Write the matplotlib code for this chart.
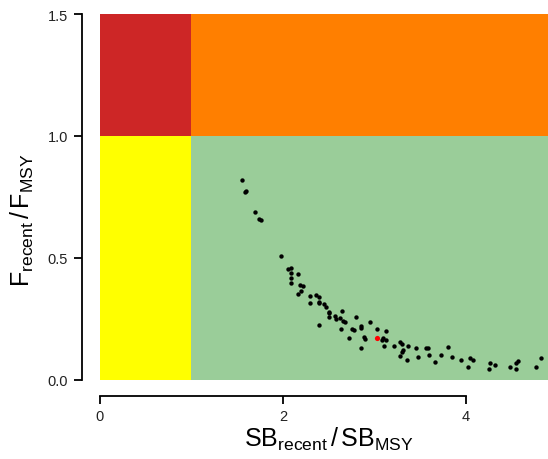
import matplotlib
matplotlib.use("Agg")
import matplotlib.pyplot as plt
from matplotlib.patches import Rectangle

plt.rcParams['font.family'] = ['Liberation Sans', 'DejaVu Sans']
plt.rcParams['mathtext.fontset'] = 'custom'
plt.rcParams['mathtext.rm'] = 'Liberation Sans'
plt.rcParams['mathtext.it'] = 'Liberation Sans'

sb_ratio = [1.55, 1.59, 1.60, 1.70, 1.74, 1.76, 1.98, 2.06, 2.09, 2.09, 2.17, 2.09, 2.09, 2.19, 2.22,
            2.17, 2.20, 2.30, 2.36, 2.30, 2.40, 2.40, 2.39, 2.45, 2.47, 2.50, 2.51, 2.50, 2.57, 2.58,
            2.62, 2.65, 2.66, 2.68, 2.80, 2.40, 2.64, 2.76, 2.78, 2.86, 2.86, 2.95, 2.72, 2.89, 2.90,
            3.03, 3.13, 3.10, 3.13, 3.08, 2.86, 3.11, 3.22, 3.28, 3.30, 3.37, 3.31, 3.30, 3.28, 3.36,
            3.46, 3.48, 3.57, 3.59, 3.60, 3.66, 3.73, 3.81, 3.85, 3.95, 4.05, 4.08, 4.03, 4.27, 4.32,
            4.26, 4.48, 4.55, 4.57, 4.55, 4.77, 4.82]
f_ratio = [0.82, 0.77, 0.776, 0.69, 0.66, 0.656, 0.51, 0.454, 0.457, 0.44, 0.434, 0.418, 0.399, 0.39, 0.384,
           0.352, 0.363, 0.343, 0.348, 0.316, 0.339, 0.321, 0.314, 0.311, 0.30, 0.28, 0.273, 0.257, 0.264, 0.25,
           0.253, 0.284, 0.243, 0.239, 0.257, 0.227, 0.209, 0.211, 0.206, 0.223, 0.214, 0.236, 0.173, 0.175, 0.168,
           0.209, 0.201, 0.171, 0.165, 0.165, 0.13, 0.138, 0.138, 0.157, 0.148, 0.138, 0.124, 0.113, 0.097, 0.082,
           0.13, 0.093, 0.13, 0.13, 0.102, 0.072, 0.104, 0.134, 0.093, 0.082, 0.09, 0.084, 0.055, 0.07, 0.063,
           0.045, 0.055, 0.068, 0.077, 0.045, 0.055, 0.089]
ref_sb = [3.03]
ref_f = [0.171]

x_ticks = [0, 2, 4]
y_ticks = [0.0, 0.5, 1.0, 1.5]
y_tick_labels = ["0.0", "0.5", "1.0", "1.5"]

W, H = 548, 460
PX = 0.72  # points per pixel at dpi 100
fig = plt.figure(figsize=(W / 100, H / 100), dpi=100)
ax = fig.add_axes([100 / W, (H - 381) / H, 448 / W, 366 / H])
xmax = 4.9
ax.set_xlim(0, xmax)
ax.set_ylim(0, 1.5)

ax.add_patch(Rectangle((0, 0), 1, 1, color='#FFFF00', lw=0))
ax.add_patch(Rectangle((1, 0), xmax - 1, 1, color='#9ACD99', lw=0))
ax.add_patch(Rectangle((0, 1), 1, 0.5, color='#CD2626', lw=0))
ax.add_patch(Rectangle((1, 1), xmax - 1, 0.5, color='#FF7F00', lw=0))

ax.scatter(sb_ratio, f_ratio, s=10, c='black', linewidths=0, zorder=3, clip_on=False)
ax.scatter(ref_sb, ref_f, s=14, c='#FF0000', linewidths=0, zorder=4)

for s in ['top', 'right']:
    ax.spines[s].set_visible(False)
ax.spines['left'].set_position(('outward', 18 * PX))
ax.spines['left'].set_bounds(0, 1.5)
ax.spines['bottom'].set_position(('outward', 16 * PX))
ax.spines['bottom'].set_bounds(0, 4)
for s in ['left', 'bottom']:
    ax.spines[s].set_linewidth(1.3)

ax.set_xticks(x_ticks)
ax.set_xticklabels([str(t) for t in x_ticks])
ax.set_yticks(y_ticks)
ax.set_yticklabels(y_tick_labels)
ax.tick_params(axis='both', length=8 * PX, width=1.3, labelsize=10.5, labelcolor='#222222')
ax.tick_params(axis='y', pad=6 * PX)
ax.tick_params(axis='x', pad=5 * PX)

fig.text(329 / W, 1 - 439 / H, r'$\mathrm{SB_{recent}}\,/\,\mathrm{SB_{MSY}}$',
         ha='center', va='center', fontsize=18)
fig.text(22 / W, 1 - 220 / H, r'$\mathrm{F_{recent}}\,/\,\mathrm{F_{MSY}}$',
         ha='center', va='center', fontsize=18, rotation=90)

fig.savefig('out.png', dpi=100)
